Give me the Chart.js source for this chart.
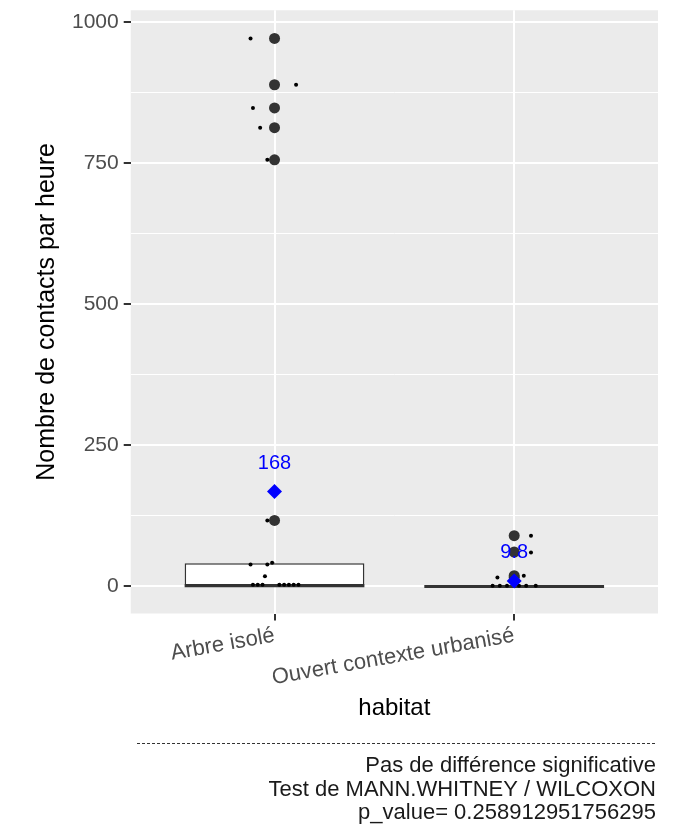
<!DOCTYPE html>
<html>
<head>
<meta charset="utf-8">
<script src="https://cdn.jsdelivr.net/npm/chart.js@4/dist/chart.umd.min.js"></script>
<style>
  html, body { margin: 0; padding: 0; background: #fff; }
  #wrap { width: 681px; height: 830px; }
</style>
</head>
<body>
<div id="wrap"><canvas id="boxChart" width="681" height="830"></canvas></div>
<script>
// categories and summary values
var categories = ['Arbre isolé', 'Ouvert contexte urbanisé'];
var boxLow = [0, 0];          // Q1
var boxMedian = [1, 0];
var boxHigh = [41, 2];        // Q3
var whiskerHigh = [42, 3];
var means = [168, 9.8];
var meanLabels = ['168', '9.8'];

// outliers (large dark points)
var outliersArbre = [971, 889, 848, 813, 756, 117];
var outliersOuvert = [90, 61, 19, 16];

// every observation, jittered horizontally (offset from category centre, in category units)
var jitterArbreY = [971, 889, 848, 813, 756, 117, 39, 39, 42, 18, 3, 3, 3, 3, 3, 3, 3, 3];
var jitterArbreX = [-0.10, 0.09, -0.09, -0.06, -0.03, -0.03, -0.10, -0.03, -0.01, -0.04, -0.09, -0.07, -0.05, 0.02, 0.04, 0.06, 0.08, 0.10];
var jitterOuvertY = [90, 60, 16, 19, 1, 1, 1, 1, 1, 1];
var jitterOuvertX = [0.07, 0.07, -0.07, 0.04, -0.09, -0.06, -0.03, 0.02, 0.05, 0.09];

var yTicks = [0, 125, 250, 375, 500, 625, 750, 875, 1000];
var captionLines = ['Pas de différence significative', 'Test de MANN.WHITNEY / WILCOXON', 'p_value= 0.258912951756295'];

var FONT = "'Liberation Sans', Arial, sans-serif";

var boxData = categories.map(function (c, i) { return { x: i + 1, y: [boxLow[i], boxHigh[i]] }; });
var outlierData = outliersArbre.map(function (v) { return { x: 1, y: v }; })
    .concat(outliersOuvert.map(function (v) { return { x: 2, y: v }; }));
var jitterData = jitterArbreY.map(function (v, i) { return { x: 1 + jitterArbreX[i], y: v }; })
    .concat(jitterOuvertY.map(function (v, i) { return { x: 2 + jitterOuvertX[i], y: v }; }));
var meanData = means.map(function (v, i) { return { x: i + 1, y: v }; });

var panelBg = {
    id: 'panelBg',
    beforeDraw: function (chart) {
        var a = chart.chartArea, ctx = chart.ctx;
        ctx.save();
        ctx.fillStyle = '#EBEBEB';
        ctx.fillRect(a.left, a.top, a.right - a.left, a.bottom - a.top);
        ctx.restore();
    }
};

// median lines and whiskers, drawn right after the boxes
var boxExtras = {
    id: 'boxExtras',
    afterDatasetDraw: function (chart, args) {
        if (args.index !== 0) return;
        var x = chart.scales.x, y = chart.scales.y, ctx = chart.ctx;
        ctx.save();
        ctx.strokeStyle = '#333333';
        categories.forEach(function (c, i) {
            var cx = x.getPixelForValue(i + 1);
            ctx.lineWidth = 1.2;
            ctx.beginPath();
            ctx.moveTo(cx, y.getPixelForValue(boxHigh[i]));
            ctx.lineTo(cx, y.getPixelForValue(whiskerHigh[i]));
            ctx.stroke();
            ctx.lineWidth = 3;
            ctx.beginPath();
            ctx.moveTo(x.getPixelForValue(i + 1 - 0.375), y.getPixelForValue(boxMedian[i]));
            ctx.lineTo(x.getPixelForValue(i + 1 + 0.375), y.getPixelForValue(boxMedian[i]));
            ctx.stroke();
        });
        ctx.restore();
    }
};

var labelsAndCaption = {
    id: 'labelsAndCaption',
    afterDraw: function (chart) {
        var x = chart.scales.x, y = chart.scales.y, ctx = chart.ctx;
        ctx.save();
        ctx.fillStyle = '#0000FF';
        ctx.font = '20px ' + FONT;
        ctx.textAlign = 'center';
        ctx.textBaseline = 'middle';
        means.forEach(function (v, i) {
            ctx.fillText(meanLabels[i], x.getPixelForValue(i + 1), y.getPixelForValue(v + 50));
        });

        var a = chart.chartArea;
        ctx.strokeStyle = '#333333';
        ctx.lineWidth = 1;
        ctx.setLineDash([3, 2]);
        ctx.beginPath();
        ctx.moveTo(137, 743.5);
        ctx.lineTo(a.right - 1, 743.5);
        ctx.stroke();
        ctx.setLineDash([]);

        ctx.fillStyle = '#1A1A1A';
        ctx.font = '22px ' + FONT;
        ctx.textAlign = 'right';
        captionLines.forEach(function (t, i) {
            ctx.fillText(t, a.right - 2, 766 + i * 23.5);
        });
        ctx.restore();
    }
};

new Chart(document.getElementById('boxChart').getContext('2d'), {
    type: 'bar',
    data: {
        datasets: [
            {
                type: 'bar',
                data: boxData,
                order: 4,
                backgroundColor: '#FFFFFF',
                borderColor: '#333333',
                borderWidth: 1.5,
                borderSkipped: false,
                barPercentage: 0.75,
                categoryPercentage: 1
            },
            {
                type: 'scatter',
                data: outlierData,
                order: 3,
                pointRadius: 5.5,
                pointBackgroundColor: '#333333',
                pointBorderWidth: 0
            },
            {
                type: 'scatter',
                data: jitterData,
                order: 2,
                pointRadius: 2,
                pointBackgroundColor: '#000000',
                pointBorderWidth: 0
            },
            {
                type: 'scatter',
                data: meanData,
                order: 1,
                pointStyle: 'rectRot',
                pointRadius: 7.5,
                pointBackgroundColor: '#0000FF',
                pointBorderWidth: 0
            }
        ]
    },
    options: {
        responsive: false,
        animation: false,
        layout: { padding: { left: 32, right: 23, top: 4, bottom: 107 } },
        plugins: { legend: { display: false }, tooltip: { enabled: false } },
        scales: {
            x: {
                type: 'linear',
                min: 0.4,
                max: 2.6,
                offset: false,
                afterBuildTicks: function (s) { s.ticks = [{ value: 1 }, { value: 2 }]; },
                grid: { offset: false, color: '#FFFFFF', lineWidth: 2, tickColor: '#333333', tickLength: 7 },
                border: { display: false },
                ticks: {
                    autoSkip: false,
                    minRotation: 10,
                    maxRotation: 10,
                    padding: 2,
                    color: '#4D4D4D',
                    font: { family: FONT, size: 22 },
                    callback: function (v) { return categories[Math.round(v) - 1]; }
                },
                title: {
                    display: true,
                    text: 'habitat',
                    color: '#000000',
                    font: { family: FONT, size: 24 },
                    padding: { top: 1, bottom: 0 }
                }
            },
            y: {
                type: 'linear',
                min: -48,
                max: 1021,
                afterBuildTicks: function (s) { s.ticks = yTicks.map(function (v) { return { value: v }; }); },
                grid: {
                    color: '#FFFFFF',
                    lineWidth: function (c) { return c.tick && c.tick.value % 250 === 0 ? 2 : 1; },
                    tickColor: function (c) { return c.tick && c.tick.value % 250 === 0 ? '#333333' : 'rgba(0,0,0,0)'; },
                    tickLength: 7
                },
                border: { display: false },
                ticks: {
                    padding: 5,
                    color: '#4D4D4D',
                    font: { family: FONT, size: 21, lineHeight: 0.5 },
                    callback: function (v) { return v % 250 === 0 ? String(v) : ''; }
                },
                title: {
                    display: true,
                    text: 'Nombre de contacts par heure',
                    color: '#000000',
                    font: { family: FONT, size: 25 },
                    padding: { top: 0, bottom: 5 }
                }
            }
        }
    },
    plugins: [panelBg, boxExtras, labelsAndCaption]
});
</script>
</body>
</html>
